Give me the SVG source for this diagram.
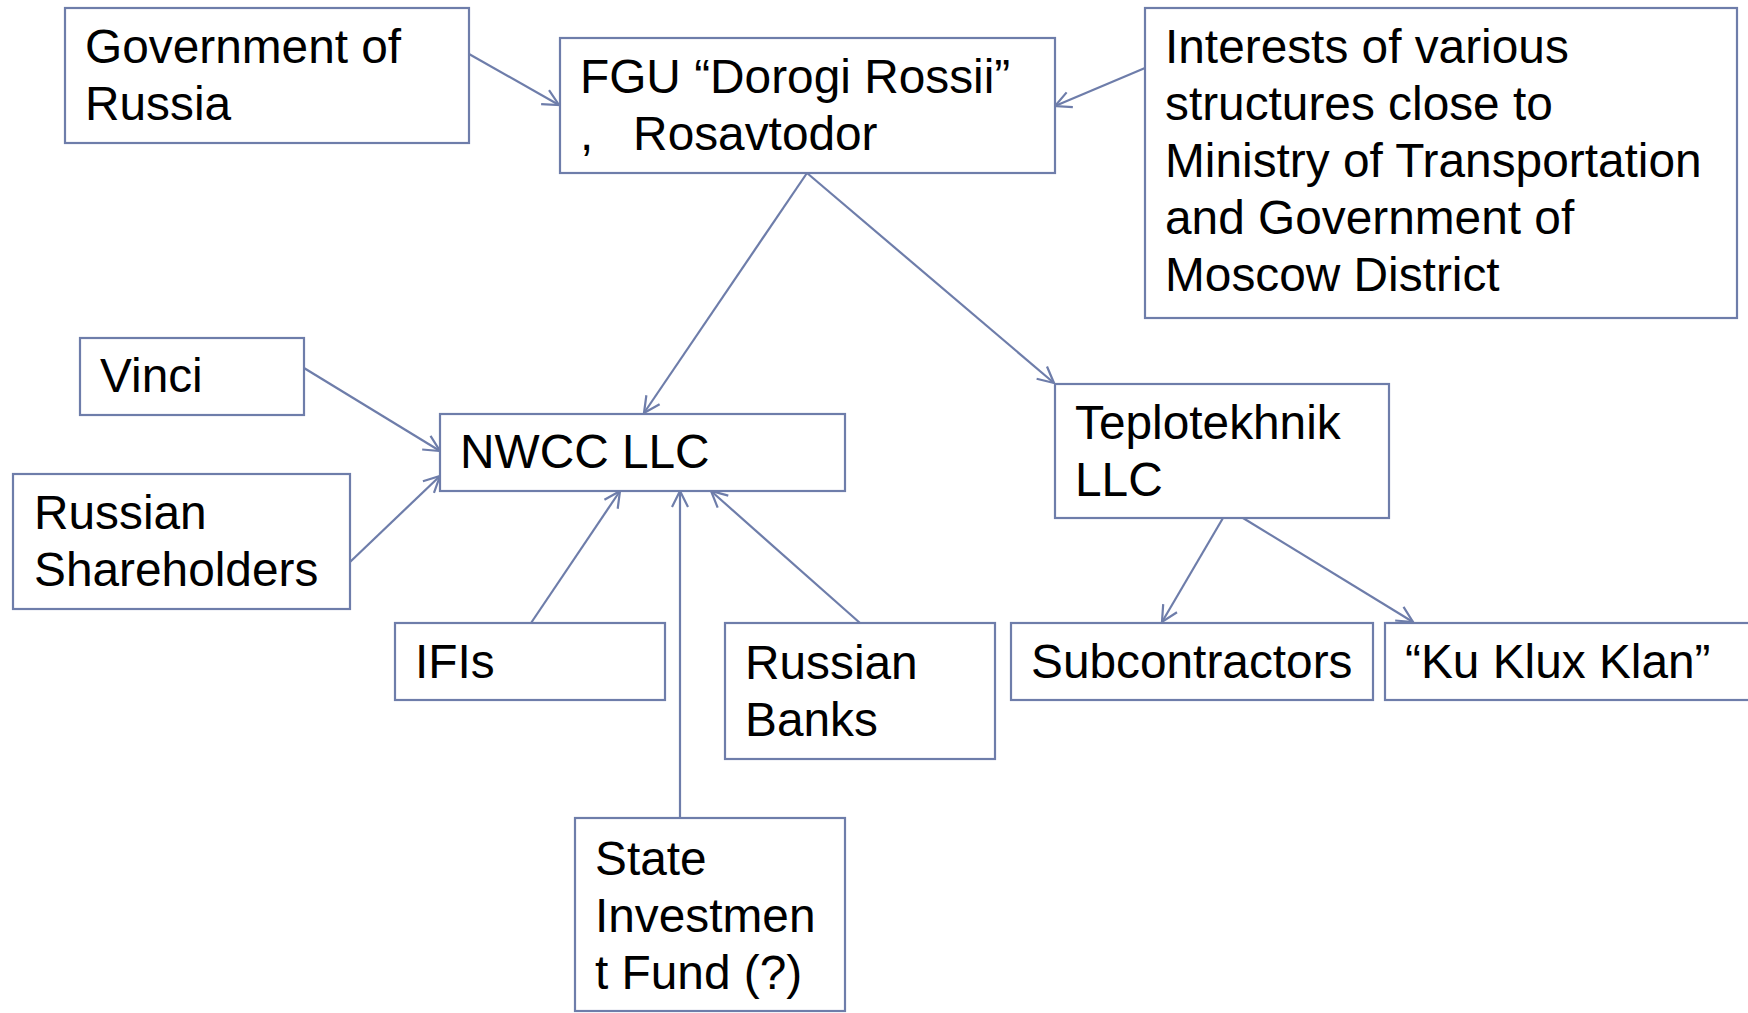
<svg xmlns="http://www.w3.org/2000/svg" width="1748" height="1013" viewBox="0 0 1748 1013">
<style>
.box{fill:#ffffff;stroke:#6E7DAA;stroke-width:2.2}
.t{font-family:"Liberation Sans",Arial,sans-serif;font-size:47.8px;fill:#000000}
.c{fill:none;stroke:#6E7DAA;stroke-width:2.2}
</style>
<defs>
<marker id="ah" markerUnits="userSpaceOnUse" markerWidth="20" markerHeight="20" viewBox="0 0 20 20" refX="17" refY="10" orient="auto">
<path d="M1,2 L17,10 L1,18" fill="none" stroke="#6E7DAA" stroke-width="2.2"/>
</marker>
</defs>
<rect width="1748" height="1013" fill="#ffffff"/>
<g id="connectors">
<line class="c" x1="469" y1="54" x2="559" y2="105" marker-end="url(#ah)"/>
<line class="c" x1="1145" y1="68" x2="1055" y2="106" marker-end="url(#ah)"/>
<line class="c" x1="807" y1="173" x2="644" y2="413" marker-end="url(#ah)"/>
<line class="c" x1="807" y1="173" x2="1054" y2="383" marker-end="url(#ah)"/>
<line class="c" x1="304" y1="368" x2="440" y2="451" marker-end="url(#ah)"/>
<line class="c" x1="350" y1="562" x2="440" y2="476" marker-end="url(#ah)"/>
<line class="c" x1="531" y1="623" x2="620" y2="491" marker-end="url(#ah)"/>
<line class="c" x1="680" y1="818" x2="680" y2="491" marker-end="url(#ah)"/>
<line class="c" x1="860" y1="623" x2="711" y2="491" marker-end="url(#ah)"/>
<line class="c" x1="1223" y1="518" x2="1162" y2="622" marker-end="url(#ah)"/>
<line class="c" x1="1243" y1="518" x2="1413" y2="622" marker-end="url(#ah)"/>
</g>
<g id="gov">
<rect class="box" x="65" y="8" width="404" height="135"/>
<text class="t" x="85" y="63">Government of</text>
<text class="t" x="85" y="120">Russia</text>
</g>
<g id="fgu">
<rect class="box" x="560" y="38" width="495" height="135"/>
<text class="t" x="580" y="93">FGU “Dorogi Rossii”</text>
<text class="t" x="580" y="150" style="white-space:pre" xml:space="preserve">,   Rosavtodor</text>
</g>
<g id="interests">
<rect class="box" x="1145" y="8" width="592" height="310"/>
<text class="t" x="1165" y="63">Interests of various</text>
<text class="t" x="1165" y="120">structures close to</text>
<text class="t" x="1165" y="177">Ministry of Transportation</text>
<text class="t" x="1165" y="234">and Government of</text>
<text class="t" x="1165" y="291">Moscow District</text>
</g>
<g id="vinci">
<rect class="box" x="80" y="338" width="224" height="77"/>
<text class="t" x="100" y="392">Vinci</text>
</g>
<g id="nwcc">
<rect class="box" x="440" y="414" width="405" height="77"/>
<text class="t" x="460" y="468">NWCC LLC</text>
</g>
<g id="russian-shareholders">
<rect class="box" x="13" y="474" width="337" height="135"/>
<text class="t" x="34" y="529">Russian</text>
<text class="t" x="34" y="586">Shareholders</text>
</g>
<g id="teplotekhnik">
<rect class="box" x="1055" y="384" width="334" height="134"/>
<text class="t" x="1075" y="439">Teplotekhnik</text>
<text class="t" x="1075" y="496">LLC</text>
</g>
<g id="ifis">
<rect class="box" x="395" y="623" width="270" height="77"/>
<text class="t" x="415" y="678">IFIs</text>
</g>
<g id="russian-banks">
<rect class="box" x="725" y="623" width="270" height="136"/>
<text class="t" x="745" y="679">Russian</text>
<text class="t" x="745" y="736">Banks</text>
</g>
<g id="subcontractors">
<rect class="box" x="1011" y="623" width="362" height="77"/>
<text class="t" x="1031" y="678">Subcontractors</text>
</g>
<g id="kkk">
<rect class="box" x="1385" y="623" width="380" height="77"/>
<text class="t" x="1405" y="678">“Ku Klux Klan”</text>
</g>
<g id="state-fund">
<rect class="box" x="575" y="818" width="270" height="193"/>
<text class="t" x="595" y="875">State</text>
<text class="t" x="595" y="932">Investmen</text>
<text class="t" x="595" y="989">t Fund (?)</text>
</g>
</svg>
